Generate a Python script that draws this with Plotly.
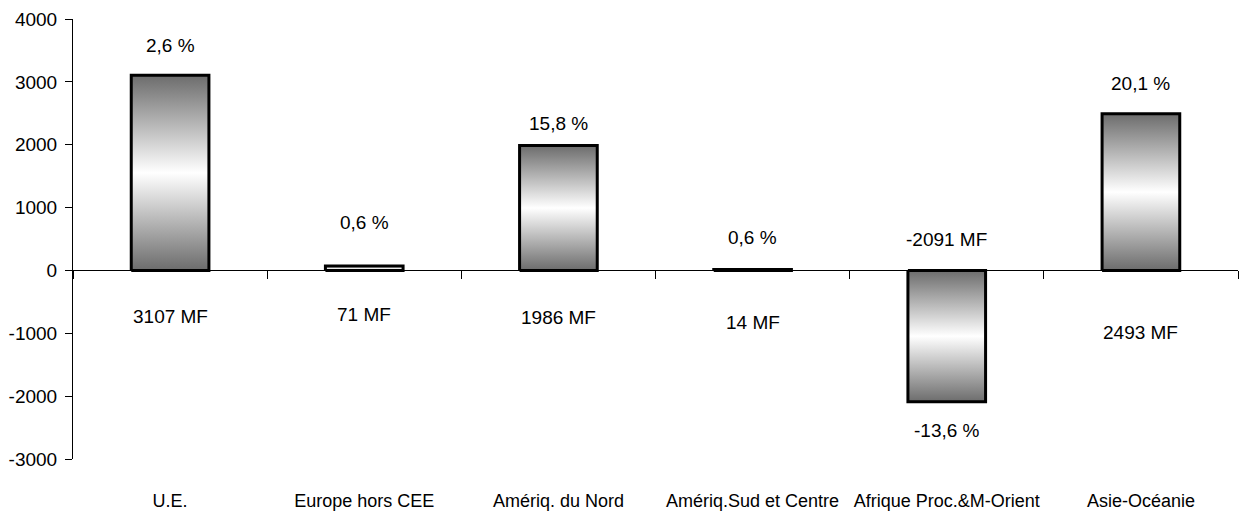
import plotly.graph_objects as go

# Trade balance by region (MF) and its share (%)
categories = ["U.E.", "Europe hors CEE", "Amériq. du Nord", "Amériq.Sud et Centre",
              "Afrique Proc.&M-Orient", "Asie-Océanie"]
values_mf = [3107, 71, 1986, 14, -2091, 2493]
pct_labels = ["2,6 %", "0,6 %", "15,8 %", "0,6 %", "-13,6 %", "20,1 %"]
y_ticks = [-3000, -2000, -1000, 0, 1000, 2000, 3000, 4000]

# label offsets in pixels (percent: from bar end, MF: from zero line)
pct_shift = [30, 43, 22, 32, -29, 30]
mf_shift = [-46, -44, -47, -52, 31, -62]

FONT = "Liberation Sans Narrow, Liberation Sans, Arial, sans-serif"
half_w = 0.2
grad = [[0.0, "#6c6c6c"], [0.5, "#ffffff"], [1.0, "#6c6c6c"]]

fig = go.Figure()
for i, v in enumerate(values_mf):
    fig.add_trace(go.Scatter(
        x=[i - half_w, i + half_w, i + half_w, i - half_w, i - half_w],
        y=[0, 0, v, v, 0],
        mode="lines",
        fill="toself",
        fillgradient=dict(type="vertical", colorscale=grad),
        line=dict(color="black", width=3),
        hoverinfo="skip",
        showlegend=False,
    ))

annotations = []
for i, v in enumerate(values_mf):
    annotations.append(dict(
        x=i, y=v, xref="x", yref="y", text=pct_labels[i], showarrow=False,
        yshift=pct_shift[i], font=dict(family=FONT, size=19, color="black"),
    ))
    annotations.append(dict(
        x=i, y=0, xref="x", yref="y", text=f"{v} MF", showarrow=False,
        yshift=mf_shift[i], font=dict(family=FONT, size=19, color="black"),
    ))

n = len(categories)
fig.update_layout(
    width=1245, height=515,
    margin=dict(l=73, r=7, t=19, b=56, autoexpand=False),
    paper_bgcolor="white", plot_bgcolor="white",
    font=dict(family=FONT, size=19, color="black"),
    annotations=annotations,
    xaxis=dict(
        range=[-0.5, n - 0.5],
        tickvals=list(range(n)), ticktext=categories,
        ticks="",
        minor=dict(tick0=-0.5, dtick=1, ticks="outside", ticklen=8,
                   tickcolor="black", tickwidth=1, showgrid=False),
        showline=True, linecolor="black", linewidth=1,
        showgrid=False, zeroline=False,
        anchor="free", position=3 / 7,
        ticklabelstandoff=214,
        tickfont=dict(family=FONT, size=18, color="black"),
        automargin=False,
    ),
    yaxis=dict(
        range=[-3000, 4000],
        tickvals=y_ticks, ticktext=[str(t) for t in y_ticks],
        ticks="outside", ticklen=7, tickcolor="black",
        showline=True, linecolor="black", linewidth=1,
        showgrid=False, zeroline=False,
        ticklabelstandoff=4,
        tickfont=dict(family=FONT, size=19, color="black"),
        automargin=False,
    ),
)

fig.write_html("out.html")
